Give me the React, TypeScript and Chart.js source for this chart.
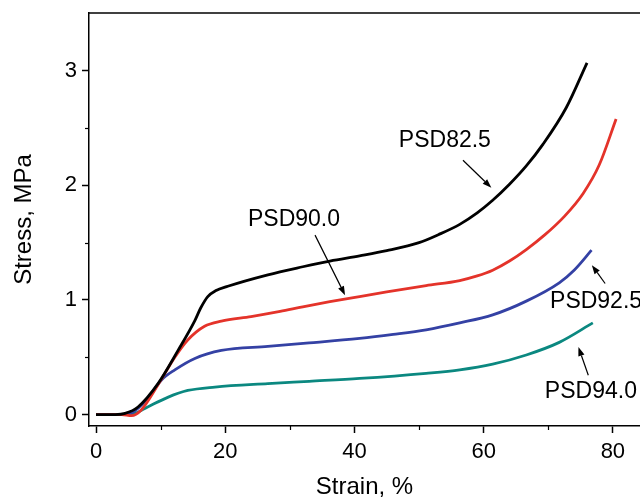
import React, { useEffect, useRef } from "react";
import { Chart, registerables } from "chart.js";

Chart.register(...registerables);

// ---- data ----
const x825 = [0, 3, 4.5, 6.5, 9.6, 12.7, 15.3, 16.2, 17.3, 18.5, 20.4, 26.6, 32, 36.2, 40.8, 45, 50, 53, 56.3, 59, 61.4, 64, 66.6, 69.2, 72.8, 76.0];
const y825 = [0, 0, 0.01, 0.066, 0.27, 0.56, 0.82, 0.93, 1.03, 1.08, 1.12, 1.22, 1.29, 1.34, 1.385, 1.43, 1.5, 1.57, 1.66, 1.76, 1.87, 2.01, 2.17, 2.36, 2.68, 3.07];

const x900 = [0, 4, 5.5, 7, 9.6, 12.2, 14.2, 16.8, 19.4, 24, 28.5, 32, 36.2, 40.8, 45, 51.1, 56.3, 59, 61.4, 64, 66.6, 69.5, 72.5, 75.4, 77.9, 80.5];
const y900 = [0, 0, -0.01, 0.04, 0.26, 0.5, 0.65, 0.77, 0.815, 0.855, 0.9, 0.94, 0.985, 1.03, 1.07, 1.125, 1.17, 1.21, 1.26, 1.34, 1.44, 1.57, 1.73, 1.93, 2.18, 2.58];

const x925 = [0, 4, 5.5, 8.0, 10.1, 12.2, 15.3, 19.4, 26.6, 33, 40.8, 46, 51.1, 56.3, 61.4, 66.6, 71.7, 74, 76.7];
const y925 = [0, 0, 0.015, 0.14, 0.3, 0.39, 0.49, 0.56, 0.595, 0.625, 0.665, 0.7, 0.74, 0.8, 0.87, 0.99, 1.15, 1.26, 1.435];

const x940 = [0, 4, 6, 8.0, 11.1, 14.2, 18.4, 26.6, 33, 40.8, 51.1, 56.3, 61.4, 66.6, 71.7, 76.9];
const y940 = [0, 0, 0.01, 0.066, 0.15, 0.21, 0.24, 0.27, 0.29, 0.315, 0.36, 0.39, 0.44, 0.52, 0.63, 0.8];

const seriesNames = ["PSD82.5", "PSD90.0", "PSD92.5", "PSD94.0"];
const seriesColors = ["#000000", "#E4332A", "#3441A4", "#0B8880"];

const xMajorTicks = [0, 20, 40, 60, 80];
const xMinorTicks = [10, 30, 50, 70];
const yMajorTicks = [0, 1, 2, 3];
const yMinorTicks = [0.5, 1.5, 2.5];

// annotations (text centre and arrow tail/head in data units)
const annotations = [
  { text: "PSD82.5", tx: 54.0, ty: 2.387, ax1: 56.8, ay1: 2.22, ax2: 61.2, ay2: 1.98 },
  { text: "PSD90.0", tx: 30.65, ty: 1.7, ax1: 33.9, ay1: 1.566, ax2: 38.55, ay2: 1.042 },
  { text: "PSD92.5", tx: 77.4, ty: 0.985, ax1: 78.8, ay1: 1.144, ax2: 76.75, ay2: 1.304 },
  { text: "PSD94.0", tx: 76.6, ty: 0.199, ax1: 76.2, ay1: 0.343, ax2: 74.67, ay2: 0.59 },
];

const FONT = "'Liberation Sans', Arial, Helvetica, sans-serif";

const zip = (xs: number[], ys: number[]) => xs.map((x, i) => ({ x, y: ys[i] }));

const extrasPlugin = {
  id: "extras",
  afterDraw(chart: any) {
    const { ctx, chartArea, scales } = chart;
    const xs = scales.x;
    const ys = scales.y;
    ctx.save();
    ctx.strokeStyle = "#000";
    ctx.lineWidth = 1.5;
    // top border
    ctx.beginPath();
    ctx.moveTo(chartArea.left - 0.75, chartArea.top);
    ctx.lineTo(chartArea.right, chartArea.top);
    ctx.stroke();
    // minor ticks
    ctx.lineWidth = 1.2;
    xMinorTicks.forEach((v) => {
      const p = Math.round(xs.getPixelForValue(v)) + 0.5;
      ctx.beginPath();
      ctx.moveTo(p, chartArea.bottom);
      ctx.lineTo(p, chartArea.bottom + 4);
      ctx.stroke();
    });
    yMinorTicks.forEach((v) => {
      const p = Math.round(ys.getPixelForValue(v)) + 0.5;
      ctx.beginPath();
      ctx.moveTo(chartArea.left, p);
      ctx.lineTo(chartArea.left - 4, p);
      ctx.stroke();
    });
    // annotations
    ctx.fillStyle = "#000";
    ctx.font = `23px ${FONT}`;
    ctx.textAlign = "center";
    ctx.textBaseline = "middle";
    annotations.forEach((a) => {
      ctx.fillText(a.text, xs.getPixelForValue(a.tx), ys.getPixelForValue(a.ty));
      const x1 = xs.getPixelForValue(a.ax1);
      const y1 = ys.getPixelForValue(a.ay1);
      const x2 = xs.getPixelForValue(a.ax2);
      const y2 = ys.getPixelForValue(a.ay2);
      const ang = Math.atan2(y2 - y1, x2 - x1);
      const hl = 9;
      const hw = 3.2;
      const bx = x2 - hl * Math.cos(ang);
      const by = y2 - hl * Math.sin(ang);
      ctx.lineWidth = 1.2;
      ctx.beginPath();
      ctx.moveTo(x1, y1);
      ctx.lineTo(bx, by);
      ctx.stroke();
      ctx.beginPath();
      ctx.moveTo(x2, y2);
      ctx.lineTo(bx + hw * Math.sin(ang), by - hw * Math.cos(ang));
      ctx.lineTo(bx - hw * Math.sin(ang), by + hw * Math.cos(ang));
      ctx.closePath();
      ctx.fill();
    });
    ctx.restore();
  },
};

export default function App() {
  const ref = useRef<HTMLCanvasElement | null>(null);
  useEffect(() => {
    if (!ref.current) return;
    const xsList = [x825, x900, x925, x940];
    const ysList = [y825, y900, y925, y940];
    const chart = new Chart(ref.current, {
      type: "line",
      data: {
        datasets: seriesNames.map((name, i) => ({
          label: name,
          data: zip(xsList[i], ysList[i]),
          borderColor: seriesColors[i],
          backgroundColor: seriesColors[i],
          borderWidth: 2.8,
          pointRadius: 0,
          fill: false,
          cubicInterpolationMode: "monotone" as const,
        })),
      },
      options: {
        animation: false,
        responsive: false,
        devicePixelRatio: 1,
        layout: { padding: { top: 13, left: 0, right: 0, bottom: 0 } },
        plugins: { legend: { display: false }, tooltip: { enabled: false } },
        scales: {
          x: {
            type: "linear",
            min: -1.084,
            max: 84.2,
            afterFit: (s: any) => {
              s.height = 73;
              s.paddingLeft = 0;
              s.paddingRight = 0;
              s.paddingTop = 0;
              s.paddingBottom = 0;
            },
            afterBuildTicks: (s: any) => {
              s.ticks = xMajorTicks.map((v) => ({ value: v }));
            },
            border: { display: true, color: "#000", width: 1.5 },
            grid: { drawOnChartArea: false, drawTicks: true, tickLength: 7, tickColor: "#000", tickWidth: 1.5 },
            ticks: { color: "#000", font: { family: FONT, size: 22 }, padding: 6, maxRotation: 0, autoSkip: false },
            title: {
              display: true,
              text: "Strain, %",
              color: "#000",
              font: { family: FONT, size: 24, lineHeight: 1 },
              padding: { top: 0, bottom: 0 },
            },
          },
          y: {
            type: "linear",
            min: -0.1,
            max: 3.505,
            afterFit: (s: any) => {
              s.width = 89;
              s.paddingLeft = 0;
              s.paddingRight = 0;
              s.paddingTop = 0;
              s.paddingBottom = 0;
            },
            afterBuildTicks: (s: any) => {
              s.ticks = yMajorTicks.map((v) => ({ value: v }));
            },
            border: { display: true, color: "#000", width: 1.5 },
            grid: { drawOnChartArea: false, drawTicks: true, tickLength: 7, tickColor: "#000", tickWidth: 1.5 },
            ticks: { color: "#000", font: { family: FONT, size: 22 }, padding: 5, autoSkip: false },
            title: {
              display: true,
              text: "Stress, MPa",
              color: "#000",
              font: { family: FONT, size: 24, lineHeight: 1 },
              padding: { top: 12, bottom: 0 },
            },
          },
        },
      },
      plugins: [extrasPlugin],
    });
    return () => chart.destroy();
  }, []);
  return (
    <canvas
      ref={ref}
      width={640}
      height={499}
      style={{ position: "fixed", left: 0, top: 0, width: 640, height: 499, display: "block", background: "#fff" }}
    />
  );
}
